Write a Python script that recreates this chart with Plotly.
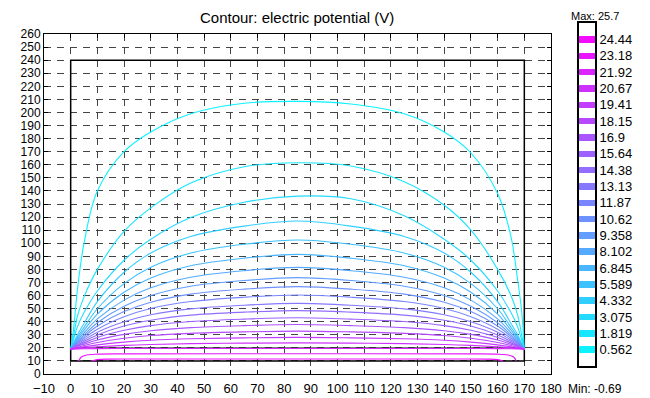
import plotly.graph_objects as go

# ---------------- data ----------------
level_values = [0.562, 1.819, 3.075, 4.332, 5.589, 6.845, 8.102, 9.358, 10.62, 11.87,
                13.13, 14.38, 15.64, 16.9, 18.15, 19.41, 20.67, 21.92, 23.18, 24.44]
level_labels = ["0.562", "1.819", "3.075", "4.332", "5.589", "6.845", "8.102", "9.358", "10.62", "11.87",
                "13.13", "14.38", "15.64", "16.9", "18.15", "19.41", "20.67", "21.92", "23.18", "24.44"]
pot_min = -0.69
pot_max = 25.7

x_grid = [0, 1, 2.5, 5, 10, 20, 30, 45, 65, 85, 105, 125, 140, 150, 160, 165, 167.5, 169, 170]

c01_y = [19, 33, 64, 100, 140, 170, 185, 199, 207, 208.5, 206.5, 199, 185, 169, 138, 105, 72, 48, 19]
c02_y = [19, 28, 44, 59, 80, 109, 127, 146, 158.5, 161.5, 159, 147, 129, 110, 80, 60, 45, 30, 19]
c03_y = [19, 26, 36, 47, 63.5, 87, 103, 119.6, 131.3, 136, 134, 121, 103, 87, 63.5, 47, 36, 26, 19]
c04_y = [19, 23.4, 29.8, 38.6, 55.3, 77.8, 92.5, 105.2, 113.1, 117, 113.1, 105.2, 92.5, 77.8, 55.3, 38.6, 29.8, 23.4, 19]
c05_y = [19, 22.8, 28.2, 35.7, 49.9, 69.1, 81.6, 92.5, 99.2, 102.5, 99.2, 92.5, 81.6, 69.1, 49.9, 35.7, 28.2, 22.8, 19]
c06_y = [19, 22.3, 27, 33.5, 45.8, 62.5, 73.4, 82.8, 88.6, 91.5, 88.6, 82.8, 73.4, 62.5, 45.8, 33.5, 27, 22.3, 19]
c07_y = [19, 21.8, 25.9, 31.5, 42.1, 56.5, 65.9, 74, 79, 81.5, 79, 74, 65.9, 56.5, 42.1, 31.5, 25.9, 21.8, 19]
c08_y = [19, 21.5, 25, 29.9, 39.2, 51.8, 60, 67.1, 71.5, 73.7, 71.5, 67.1, 60, 51.8, 39.2, 29.9, 25, 21.5, 19]
c09_y = [19, 21.2, 24.3, 28.6, 36.7, 47.7, 54.9, 61.1, 64.9, 66.8, 64.9, 61.1, 54.9, 47.7, 36.7, 28.6, 24.3, 21.2, 19]
c10_y = [19, 20.9, 23.6, 27.3, 34.3, 43.8, 50.1, 55.4, 58.7, 60.4, 58.7, 55.4, 50.1, 43.8, 34.3, 27.3, 23.6, 20.9, 19]
c11_y = [19, 20.6, 22.9, 26, 32, 40, 45.3, 49.8, 52.6, 54, 52.6, 49.8, 45.3, 40, 32, 26, 22.9, 20.6, 19]
c12_y = [19, 20.3, 22.2, 24.9, 29.9, 36.7, 41.1, 45, 47.3, 48.5, 47.3, 45, 41.1, 36.7, 29.9, 24.9, 22.2, 20.3, 19]
c13_y = [19, 20.1, 21.6, 23.8, 27.9, 33.4, 37, 40.1, 42, 43, 42, 40.1, 37, 33.4, 27.9, 23.8, 21.6, 20.1, 19]
c14_y = [19, 19.8, 21.1, 22.8, 26, 30.3, 33.1, 35.5, 37, 37.8, 37, 35.5, 33.1, 30.3, 26, 22.8, 21.1, 19.8, 19]
c15_y = [19, 19.6, 20.5, 21.8, 24.1, 27.3, 29.4, 31.1, 32.2, 32.8, 32.2, 31.1, 29.4, 27.3, 24.1, 21.8, 20.5, 19.6, 19]
c16_y = [19, 19.4, 20, 20.8, 22.3, 24.4, 25.8, 26.9, 27.6, 28, 27.6, 26.9, 25.8, 24.4, 22.3, 20.8, 20, 19.4, 19]
c17_y = [19, 19.2, 19.5, 20, 20.8, 21.9, 22.6, 23.2, 23.6, 23.8, 23.6, 23.2, 22.6, 21.9, 20.8, 20, 19.5, 19.2, 19]
c18_y = [19, 19.1, 19.2, 19.3, 19.4, 19.5, 19.5, 19.5, 19.5, 19.5, 19.5, 19.5, 19.5, 19.5, 19.4, 19.3, 19.2, 19.1, 19]

c19_x = [3, 4, 6, 10, 20, 85, 150, 160, 164, 166, 167]
c19_y = [10, 13, 14.5, 15.2, 15.4, 15.5, 15.4, 15.2, 14.5, 13, 10]
c20_x = [8, 10, 14, 25, 85, 145, 156, 160, 162]
c20_y = [10, 11, 11.4, 11.5, 11.5, 11.5, 11.4, 11, 10]

domain_x = [0, 170, 170, 0, 0]
domain_y = [10, 10, 240, 240, 10]
electrode_x = [0, 170]
electrode_y = [20, 20]

contour_sets = [
    (x_grid, c01_y), (x_grid, c02_y), (x_grid, c03_y), (x_grid, c04_y), (x_grid, c05_y),
    (x_grid, c06_y), (x_grid, c07_y), (x_grid, c08_y), (x_grid, c09_y), (x_grid, c10_y),
    (x_grid, c11_y), (x_grid, c12_y), (x_grid, c13_y), (x_grid, c14_y), (x_grid, c15_y),
    (x_grid, c16_y), (x_grid, c17_y), (x_grid, c18_y), (c19_x, c19_y), (c20_x, c20_y),
]


def level_color(v):
    t = (v - pot_min) / (pot_max - pot_min)
    return "rgb(%d,%d,255)" % (round(255 * t), round(255 * (1 - t)))


FONT = "Liberation Sans, Arial, sans-serif"

fig = go.Figure()

fig.add_trace(go.Scatter(x=domain_x, y=domain_y, mode="lines",
                         line=dict(color="black", width=1.5), hoverinfo="skip"))
fig.add_trace(go.Scatter(x=electrode_x, y=electrode_y, mode="lines",
                         line=dict(color="#333333", width=1), hoverinfo="skip"))

for lv, (cx, cy) in zip(level_values, contour_sets):
    fig.add_trace(go.Scatter(x=cx, y=cy, mode="lines",
                             line=dict(color=level_color(lv), width=1.1, shape="spline", smoothing=1.0),
                             name=str(lv)))

# colour legend bar
fig.add_trace(go.Bar(y=level_values, x=[1] * len(level_values), base=0, orientation="h",
                     width=0.5, marker=dict(color=[level_color(v) for v in level_values], line=dict(width=0)),
                     xaxis="x2", yaxis="y2", hoverinfo="skip"))

# page body has an 8px default margin: lay out in figure coords = screen px - 8
OFF = 8
W, H = 650 - OFF, 398 - OFF
L, R, T, B = 44 - OFF, 10, 22 - OFF - 1, 24
pw = W - L - R
ph = H - T - B


def px_x(p):
    return (p - OFF - L) / pw


def px_y(p):
    return (H - B - (p - OFF)) / ph


def grid(size):
    return dict(showgrid=True, gridcolor="#444444", gridwidth=1, griddash="7px,6px",
                showline=True, linecolor="black", linewidth=1, mirror="ticks",
                ticks="inside", ticklen=4, tickcolor="black", zeroline=False, automargin=False,
                tickfont=dict(family=FONT, size=size, color="black"))


fig.update_layout(
    width=W, height=H,
    margin=dict(l=L, r=R, t=T, b=B, autoexpand=False),
    paper_bgcolor="white", plot_bgcolor="white",
    showlegend=False,
    xaxis=dict(domain=[0, px_x(551)], range=[-10, 180], tick0=0, dtick=10,
               ticklabelstandoff=2, **grid(13)),
    yaxis=dict(domain=[0, px_y(34)], range=[0, 260], tick0=0, dtick=10, **grid(12)),
    xaxis2=dict(domain=[px_x(579), px_x(595)], range=[0, 1], anchor="y2", automargin=False,
                showgrid=False, zeroline=False, showticklabels=False, ticks="",
                showline=True, linecolor="black", linewidth=2, mirror=True),
    yaxis2=dict(domain=[px_y(366), px_y(23)], range=[pot_min, pot_max], anchor="x2", side="right",
                tickvals=level_values, ticktext=level_labels, ticks="", automargin=False,
                showgrid=False, zeroline=False,
                showline=True, linecolor="black", linewidth=2, mirror=True,
                tickfont=dict(family=FONT, size=13, color="black")),
    bargap=0,
    annotations=[
        dict(text="Contour: electric potential (V)", xref="paper", yref="paper",
             x=px_x(297), y=px_y(17), xanchor="center", yanchor="middle", showarrow=False,
             font=dict(family=FONT, size=15, color="black")),
        dict(text="Max: 25.7", xref="paper", yref="paper",
             x=px_x(595), y=px_y(8), xanchor="center", yanchor="top", showarrow=False,
             font=dict(family=FONT, size=11, color="black")),
        dict(text="Min: -0.69", xref="paper", yref="paper",
             x=px_x(595), y=px_y(389), xanchor="center", yanchor="middle", showarrow=False,
             font=dict(family=FONT, size=12, color="black")),
    ],
)

fig.write_html("out.html")
